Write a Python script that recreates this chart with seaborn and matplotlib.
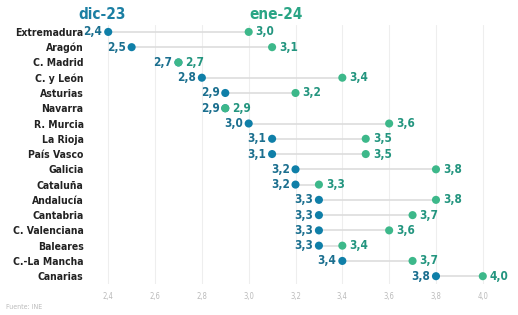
import matplotlib
matplotlib.use("Agg")
import matplotlib.pyplot as plt
import seaborn as sns
import pandas as pd

regiones = ["Extremadura", "Aragón", "C. Madrid", "C. y León", "Asturias", "Navarra",
            "R. Murcia", "La Rioja", "País Vasco", "Galicia", "Cataluña", "Andalucía",
            "Cantabria", "C. Valenciana", "Baleares", "C.-La Mancha", "Canarias"]
dic23 = [2.4, 2.5, 2.7, 2.8, 2.9, 2.9, 3.0, 3.1, 3.1, 3.2, 3.2, 3.3, 3.3, 3.3, 3.3, 3.4, 3.8]
ene24 = [3.0, 3.1, 2.7, 3.4, 3.2, 2.9, 3.6, 3.5, 3.5, 3.8, 3.3, 3.8, 3.7, 3.6, 3.4, 3.7, 4.0]
xticks = [2.4, 2.6, 2.8, 3.0, 3.2, 3.4, 3.6, 3.8, 4.0]

col_dic = "#0f7fa8"
col_ene = "#3db88a"
txt_dic = "#1b6f8f"
txt_ene = "#23957f"

sns.set_style("white")
plt.rcParams["font.family"] = ["DejaVu Sans Condensed", "Liberation Sans Narrow", "DejaVu Sans"]
plt.rcParams["font.stretch"] = "condensed"

df = pd.DataFrame({"region": regiones, "dic": dic23, "ene": ene24})
df["pos"] = range(len(df))

fig = plt.figure(figsize=(5.18, 3.15), dpi=100)
ax = fig.add_axes([0.18, 0.098, 0.79, 0.823])

for x in xticks:
    ax.axvline(x, color="#eeeeee", lw=0.8, zorder=0)

ax.hlines(df["pos"], df["dic"], df["ene"], color="#dddddd", lw=1.2, zorder=1)
sns.scatterplot(data=df, x="dic", y="pos", color=col_dic, s=34, edgecolor="none", ax=ax, zorder=3)
sns.scatterplot(data=df, x="ene", y="pos", color=col_ene, s=34, edgecolor="none", ax=ax, zorder=3)

fmt = lambda v: f"{v:.1f}".replace(".", ",")
for i, r in df.iterrows():
    ax.text(r["dic"] - 0.025, r["pos"], fmt(r["dic"]), ha="right", va="center",
            color=txt_dic, fontsize=8.5, fontweight="bold", zorder=4)
    ax.text(r["ene"] + 0.03, r["pos"], fmt(r["ene"]), ha="left", va="center",
            color=txt_ene, fontsize=8.5, fontweight="bold", zorder=4)

ax.set_xlim(2.336, 4.084)
ax.set_ylim(16.52, -0.46)
ax.set_yticks(df["pos"])
ax.set_yticklabels(regiones, fontsize=7.5, fontweight="bold", color="#222222")
ax.set_xticks(xticks)
ax.set_xticklabels([fmt(v) for v in xticks], fontsize=5.5, color="#bbbbbb")
ax.tick_params(axis="y", length=0, pad=7)
ax.tick_params(axis="x", length=0, pad=6)
ax.set_xlabel("")
ax.set_ylabel("")
sns.despine(ax=ax, left=True, bottom=True)

fig.text(0.197, 0.955, "dic-23", ha="center", va="center", color="#1b7fa3",
         fontsize=11, fontweight="bold")
fig.text(0.532, 0.955, "ene-24", ha="center", va="center", color="#2aa585",
         fontsize=11, fontweight="bold")
fig.text(0.012, 0.015, "Fuente: INE", ha="left", va="bottom", color="#bbbbbb", fontsize=5)

fig.savefig("out.png", dpi=100)
